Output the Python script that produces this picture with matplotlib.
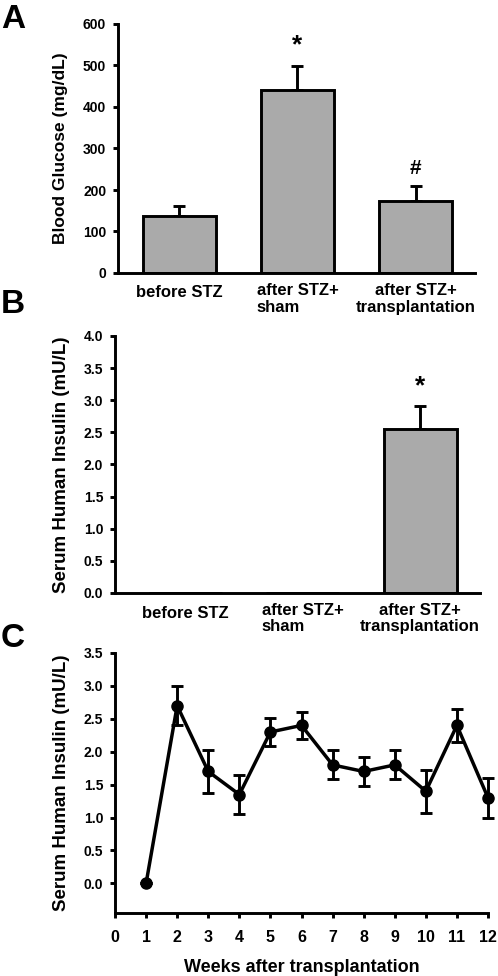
import matplotlib
matplotlib.use("Agg")
import matplotlib.pyplot as plt
import matplotlib.transforms as mtransforms

plt.rcParams['font.family'] = ['Liberation Sans', 'DejaVu Sans']
plt.rcParams['font.weight'] = 'bold'

# ---------------- data ----------------
categories = ["before STZ", "after STZ+\nsham", "after STZ+\ntransplantation"]
glucose = [137, 441, 173]
glucose_err = [24, 58, 37]
glucose_marks = ["", "*", "#"]

insulin = [0.0, 0.0, 2.55]
insulin_err = [0.0, 0.0, 0.36]
insulin_marks = ["", "", "*"]

weeks = [1, 2, 3, 4, 5, 6, 7, 8, 9, 10, 11, 12]
insulin_weekly = [0.0, 2.7, 1.7, 1.35, 2.3, 2.4, 1.8, 1.7, 1.8, 1.4, 2.4, 1.3]
insulin_weekly_err = [0.0, 0.3, 0.33, 0.3, 0.22, 0.2, 0.22, 0.22, 0.22, 0.33, 0.25, 0.3]

W, H = 498, 976
fig = plt.figure(figsize=(W / 100, H / 100), dpi=100)


def ax_at(l, t, r, b):
    return fig.add_axes([l / W, 1 - b / H, (r - l) / W, (b - t) / H])


LW = 2.1
BAR_COLOR = "#aaaaaa"


def style(ax):
    for s in ("top", "right"):
        ax.spines[s].set_visible(False)
    for s in ("left", "bottom"):
        ax.spines[s].set_linewidth(LW)
    ax.tick_params(axis="y", direction="out", length=3.5, width=LW, labelsize=10, pad=5)
    for lab in ax.get_yticklabels():
        lab.set_fontweight("bold")


def cat_labels(ax, y_single, y_double):
    trans = mtransforms.blended_transform_factory(ax.transData, ax.transAxes)
    ax.set_xticks([])
    for i, lab in enumerate(categories):
        y = y_single if "\n" not in lab else y_double
        ax.text(i, y, lab, transform=trans, ha="center", va="center",
                fontsize=12, fontweight="bold", linespacing=1.15,
                multialignment="left" if i == 1 else "center")


# ---------------- Panel A ----------------
axA = ax_at(118, 24, 475, 273)
x = list(range(len(categories)))
axA.bar(x, glucose, width=0.62, color=BAR_COLOR, edgecolor="black", linewidth=LW, zorder=2)
axA.errorbar(x, glucose, yerr=[[0] * 3, glucose_err], fmt="none", ecolor="black",
             elinewidth=LW, capsize=4.5, capthick=LW, zorder=1)
for i, m in enumerate(glucose_marks):
    if m:
        axA.text(i, glucose[i] + glucose_err[i] + 20, m, ha="center", va="bottom",
                 fontsize=19 if m == "*" else 15, fontweight="bold")
axA.set_xlim(-0.52, 2.504)
axA.set_ylim(0, 600)
axA.set_yticks([0, 100, 200, 300, 400, 500, 600])
axA.set_ylabel("Blood Glucose (mg/dL)", fontsize=12.5, fontweight="bold")
axA.yaxis.set_label_coords(-0.14, 0.5)
style(axA)
cat_labels(axA, -0.080, -0.104)

# ---------------- Panel B ----------------
axB = ax_at(115, 336, 480, 593)
axB.bar(x, insulin, width=0.62, color=BAR_COLOR, edgecolor="black", linewidth=LW, zorder=2)
axB.errorbar(x[2:], insulin[2:], yerr=[[0], insulin_err[2:]], fmt="none", ecolor="black",
             elinewidth=LW, capsize=4.5, capthick=LW, zorder=1)
for i, m in enumerate(insulin_marks):
    if m:
        axB.text(i, insulin[i] + insulin_err[i] + 0.12, m, ha="center", va="bottom",
                 fontsize=19, fontweight="bold")
axB.set_xlim(-0.6, 2.51)
axB.set_ylim(0, 4.0)
axB.set_yticks([0, 0.5, 1.0, 1.5, 2.0, 2.5, 3.0, 3.5, 4.0])
axB.set_yticklabels([f"{v:.1f}" for v in axB.get_yticks()])
axB.set_ylabel("Serum Human Insulin (mU/L)", fontsize=13.5, fontweight="bold")
axB.yaxis.set_label_coords(-0.123, 0.5)
style(axB)
cat_labels(axB, -0.078, -0.099)

# ---------------- Panel C ----------------
axC = ax_at(115, 653, 488, 913)
axC.errorbar(weeks, insulin_weekly, yerr=insulin_weekly_err, fmt="-o", color="black",
             lw=2.5, markersize=8, elinewidth=LW, capsize=4.5, capthick=LW, clip_on=False)
axC.set_xlim(0, 12)
axC.set_ylim(-0.45, 3.5)
axC.set_xticks(range(0, 13))
axC.set_yticks([0, 0.5, 1.0, 1.5, 2.0, 2.5, 3.0, 3.5])
axC.set_yticklabels([f"{v:.1f}" for v in axC.get_yticks()])
axC.set_ylabel("Serum Human Insulin (mU/L)", fontsize=13.5, fontweight="bold")
axC.yaxis.set_label_coords(-0.12, 0.5)
axC.set_xlabel("Weeks after transplantation", fontsize=13, fontweight="bold")
axC.xaxis.set_label_coords(0.5, -0.175)
style(axC)
axC.tick_params(axis="x", direction="out", length=3.5, width=LW, labelsize=11.5, pad=9)
for lab in axC.get_xticklabels():
    lab.set_fontweight("bold")

# panel letters
fig.text(1 / W, 1 - 4 / H, "A", fontsize=24, fontweight="bold", va="top", ha="left")
fig.text(1 / W, 1 - 289 / H, "B", fontsize=24, fontweight="bold", va="top", ha="left")
fig.text(1 / W, 1 - 623 / H, "C", fontsize=24, fontweight="bold", va="top", ha="left")

fig.savefig("out.png", dpi=100, facecolor="white")
